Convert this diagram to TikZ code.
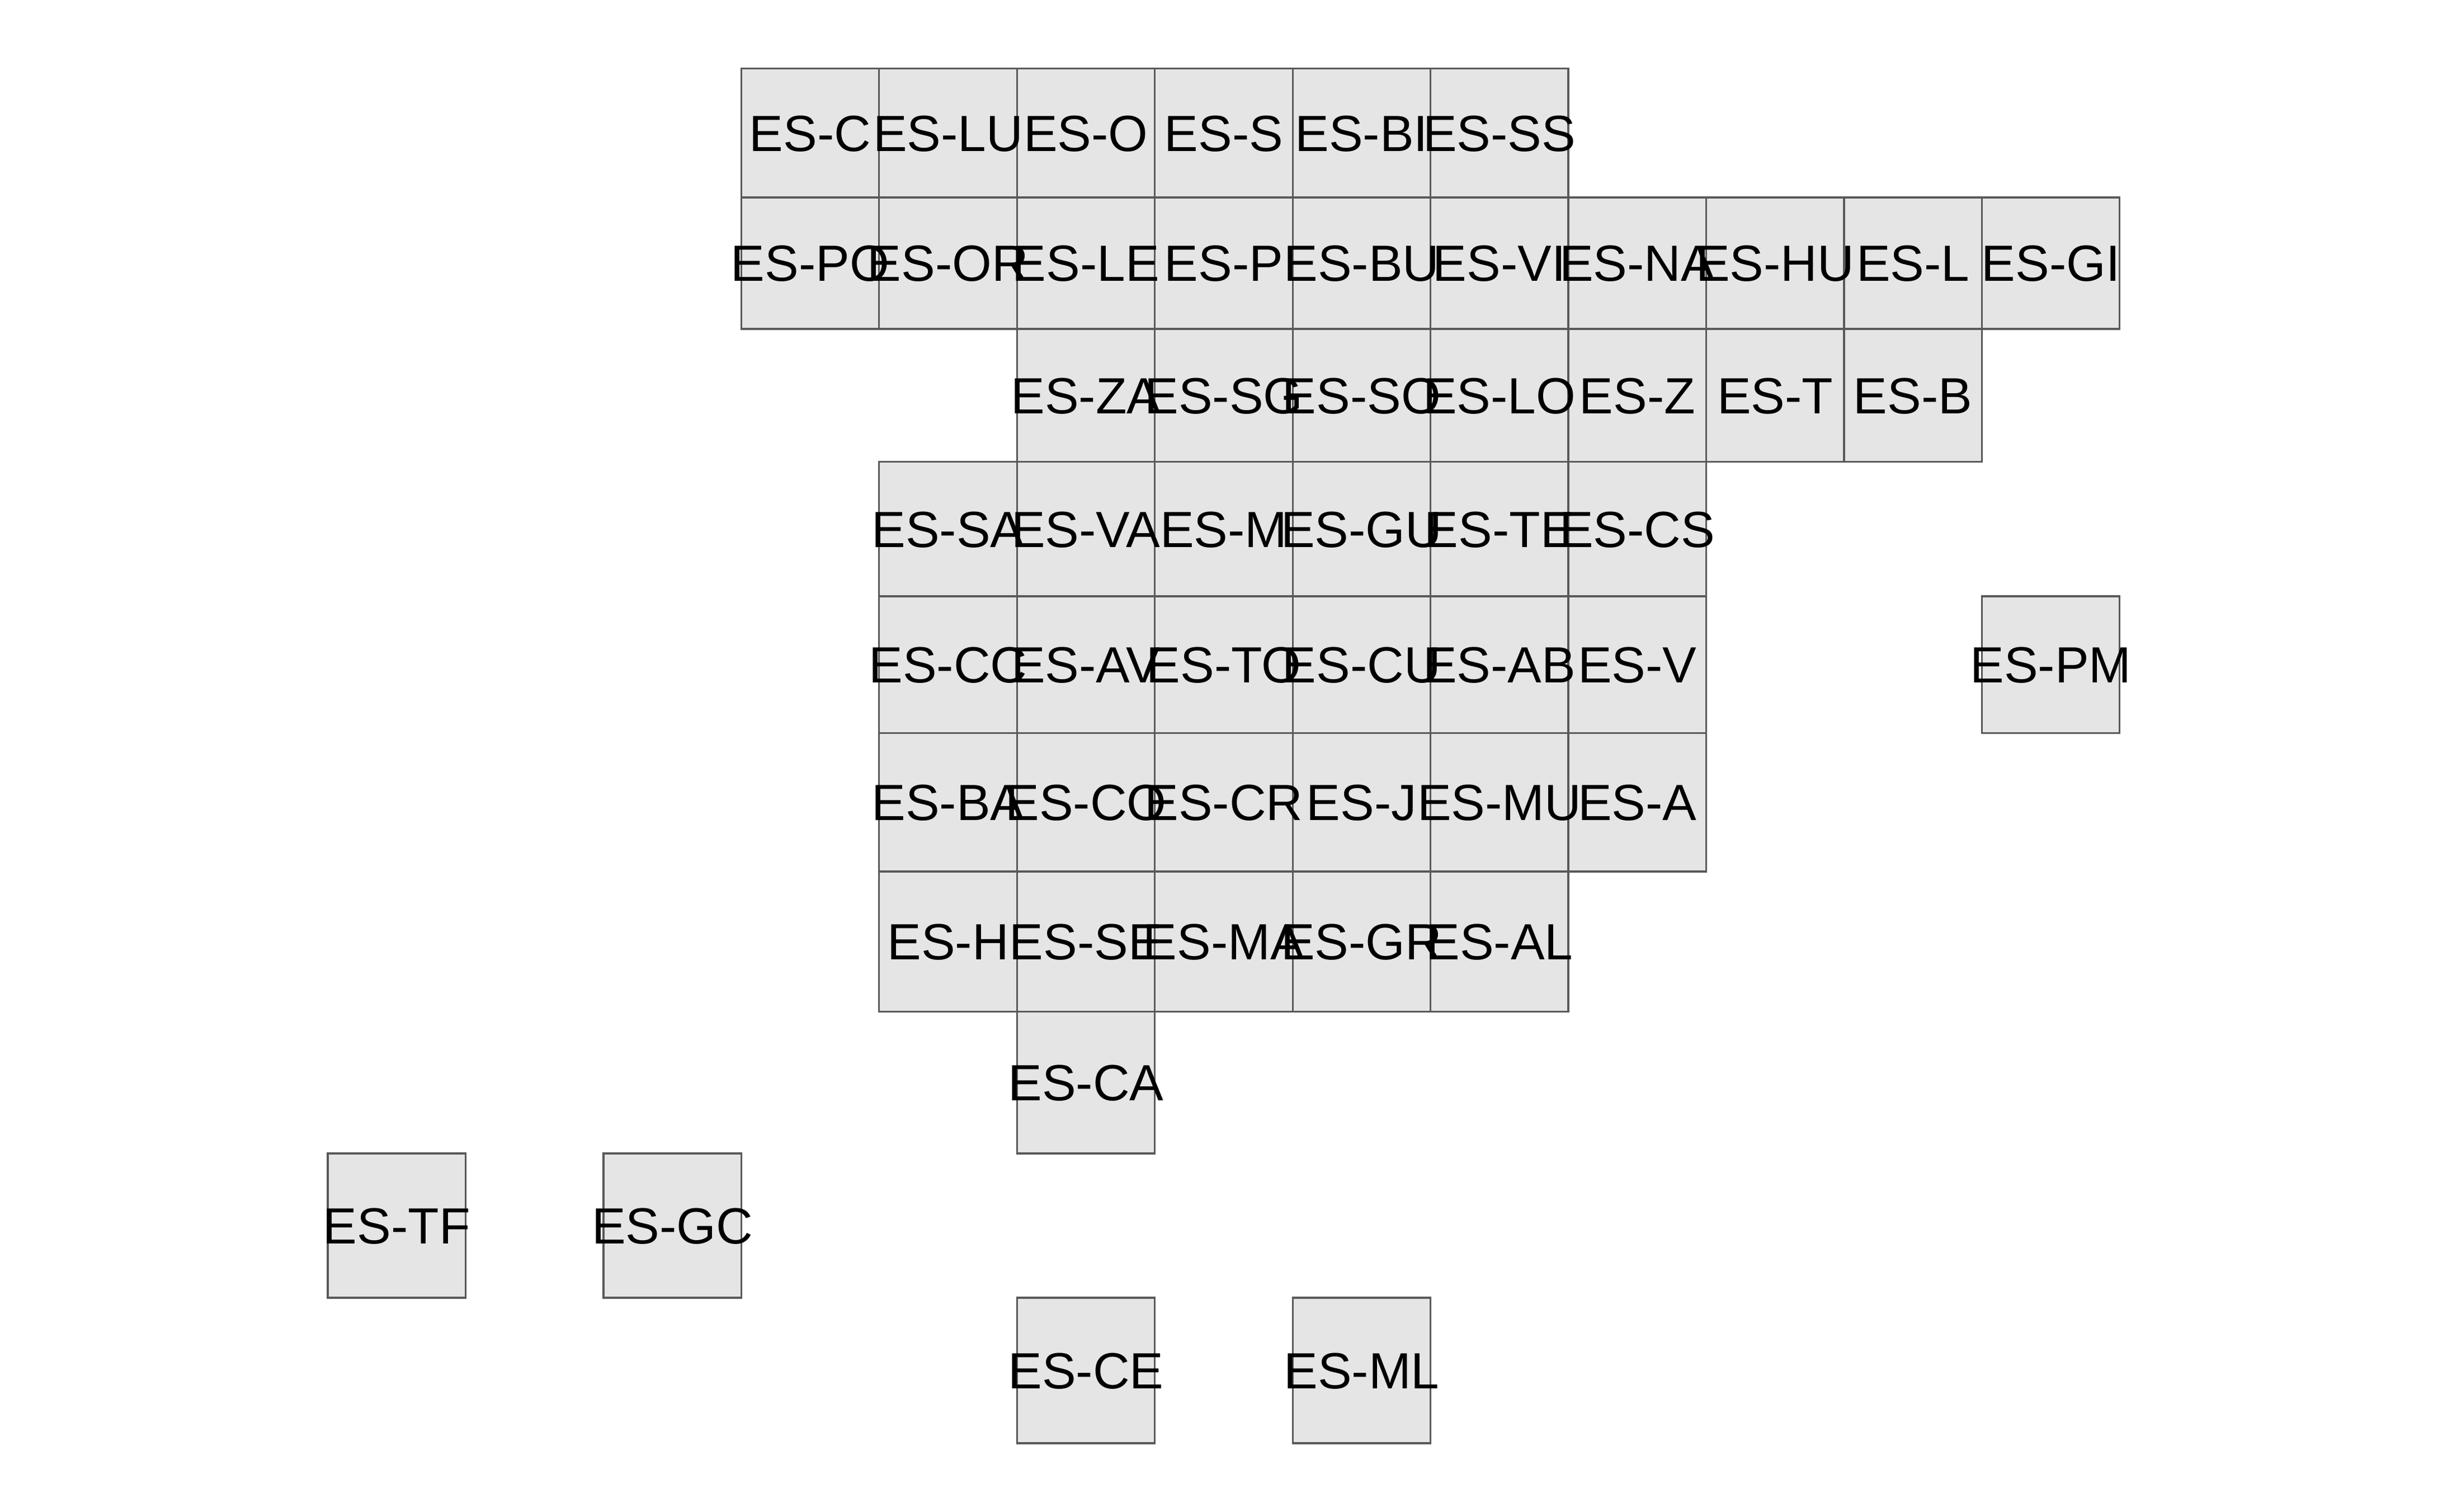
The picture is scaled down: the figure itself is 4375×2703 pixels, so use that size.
\documentclass[tikz,border=0pt]{standalone}
\usepackage{fontspec}
\setmainfont{Liberation Sans}
\usetikzlibrary{calc}
\definecolor{cellline}{HTML}{595959}
\definecolor{cellfill}{HTML}{E5E5E5}
\pgfdeclarelayer{bg}
\pgfsetlayers{bg,main}
\tikzset{
  cell/.style = {draw = cellline, fill = cellfill, line width = 0.65pt, inner sep = 0pt, minimum width = 49.29pt},
  code/.style = {anchor = base, inner sep = 0pt, font = \fontsize{18.2pt}{20pt}\selectfont}
}
\begin{document}
\begin{tikzpicture}[x = 0.2pt, y = -0.2pt]
\useasboundingbox (0,0) rectangle (4375,2703);
\foreach \rowtop/\rowbot/\rowcells in {
  122.5/353/{C/3,LU/4,O/5,S/6,BI/7,SS/8},
  353/588/{PO/3,OR/4,LE/5,P/6,BU/7,VI/8,NA/9,HU/10,L/11,GI/12},
  588/825.5/{ZA/5,SG/6,SO/7,LO/8,Z/9,T/10,B/11},
  825.5/1066/{SA/4,VA/5,M/6,GU/7,TE/8,CS/9},
  1066/1310.5/{CC/4,AV/5,TO/6,CU/7,AB/8,V/9,PM/12},
  1310.5/1558/{BA/4,CO/5,CR/6,J/7,MU/8,A/9},
  1558/1808.5/{H/4,SE/5,MA/6,GR/7,AL/8},
  1808.5/2062/{CA/5},
  2062/2320/{TF/0,GC/2},
  2320/2580/{CE/5,ML/7}}
{
  \foreach \prov/\col in \rowcells {
    \begin{pgfonlayer}{bg}
      \node[cell, minimum height = {(\rowbot-\rowtop)*0.2pt}] (\prov) at ({709.2+246.45*\col}, {(\rowtop+\rowbot)/2}) {};
    \end{pgfonlayer}
    \node[code] (\prov-text) at ([yshift = -6.46pt]\prov.center) {ES-\prov};
  }
}
\end{tikzpicture}
\end{document}
